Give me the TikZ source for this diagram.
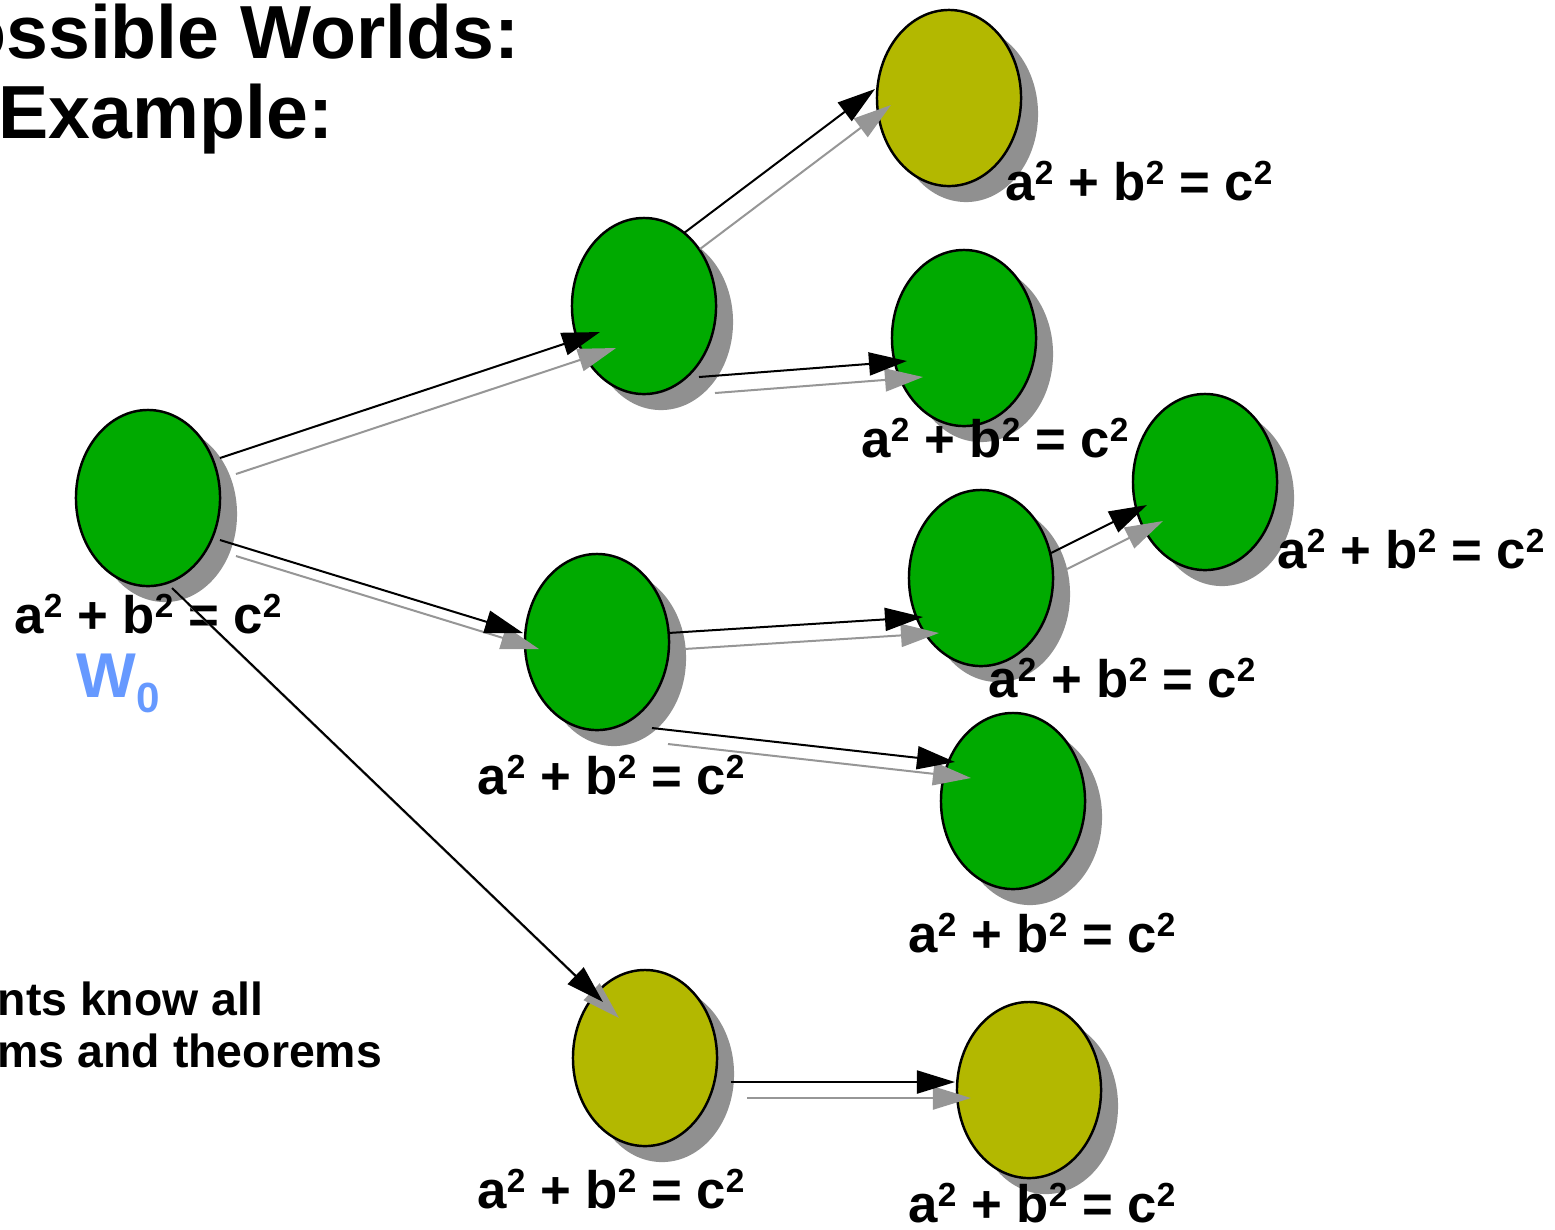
\documentclass[tikz,border=0pt]{standalone}
\usepackage{fontspec}
\setmainfont{Liberation Sans}
\usetikzlibrary{arrows.meta,shapes,shadows,calc}

\definecolor{worldgreen}{RGB}{0,170,0}
\definecolor{worldolive}{RGB}{179,184,0}
\definecolor{shadowgray}{RGB}{144,144,144}
\definecolor{linkgray}{RGB}{150,150,150}
\definecolor{wblue}{RGB}{102,153,255}

\newcommand{\supsq}{\raisebox{4.5pt}{\fontsize{9.5}{9.5}\selectfont 2}}
\newcommand{\pyth}{a\supsq{} + b\supsq{} = c\supsq}

\tikzset{
  world/.style={ellipse,draw=black,line width=0.7pt,minimum width=1.44cm,minimum height=1.76cm,inner sep=0pt,
    drop shadow={shadow xshift=0.17cm,shadow yshift=-0.16cm,fill=shadowgray,opacity=1}},
  greenworld/.style={world,fill=worldgreen},
  oliveworld/.style={world,fill=worldolive},
  eqn/.style={font=\fontsize{15}{18}\selectfont\bfseries,inner sep=0pt,anchor=base},
  heading/.style={font=\fontsize{21.4}{25}\selectfont\bfseries,inner sep=0pt},
  remark/.style={font=\fontsize{13.2}{16}\selectfont\bfseries,inner sep=0pt,anchor=base west},
  link/.style={line width=0.57pt,-{Triangle[length=0.38cm,width=0.23cm]}},
  blk/.style={link,draw=black},
  gry/.style={link,draw=linkgray,transform canvas={shift={(16,16)}}}
}

\begin{document}
\begin{tikzpicture}[x=0.01cm,y=-0.01cm]
\useasboundingbox (0,0) rectangle (1555,1229);

% title and remark
\node[heading,anchor=base east] (ttl1) at (520,58) {ossible Worlds:};
\node[heading,anchor=base west] (ttl2) at (-2,138) {Example:};
\node[remark] (rem1) at (-3,1015) {nts know all};
\node[remark] (rem2) at (-3,1067) {ms and theorems};

% worlds
\node[greenworld] (w0) at (148,498) {};
\node[greenworld] (a) at (644,306) {};
\node[oliveworld] (y1) at (949,98) {};
\node[greenworld] (b) at (964,338) {};
\node[greenworld] (c) at (597,642) {};
\node[greenworld] (d) at (981,578) {};
\node[greenworld] (r) at (1205,482) {};
\node[greenworld] (e) at (1013,801) {};
\node[oliveworld] (f) at (645,1058) {};
\node[oliveworld] (g) at (1029,1090) {};

% formulas
\node[eqn] (lw0) at (148,633) {\pyth};
\node[eqn] (ly1) at (1139,200) {\pyth};
\node[eqn] (lb) at (995,457) {\pyth};
\node[eqn] (lr) at (1411,568) {\pyth};
\node[eqn] (ld) at (1122,697) {\pyth};
\node[eqn] (lc) at (611,794) {\pyth};
\node[eqn] (le) at (1042,952) {\pyth};
\node[eqn] (lf) at (611,1208) {\pyth};
\node[eqn] (lg) at (1042,1222) {\pyth};
\node[font=\fontsize{18}{22}\selectfont\bfseries,text=wblue,inner sep=0pt,anchor=base west] (w0name) at (76,697)
  {W\raisebox{-4.5pt}{\fontsize{12}{12}\selectfont 0}};

% accessibility
\draw[gry] ($(w0)+(72,-40)$) -- ($(a)+(-44,26)$);
\draw[blk] ($(w0)+(72,-40)$) -- ($(a)+(-44,26)$);
\draw[gry] ($(w0)+(72,42)$) -- ($(c)+(-74,-9)$);
\draw[blk] ($(w0)+(72,42)$) -- ($(c)+(-74,-9)$);
\draw[gry] ($(w0)+(24,90)$) -- ($(f)+(-42,-56)$);
\draw[blk] ($(w0)+(24,90)$) -- ($(f)+(-42,-56)$);
\draw[gry] ($(a)+(40,-73)$) -- ($(y1)+(-74,-9)$);
\draw[blk] ($(a)+(40,-73)$) -- ($(y1)+(-74,-9)$);
\draw[gry] ($(a)+(55,71)$) -- ($(b)+(-57,23)$);
\draw[blk] ($(a)+(55,71)$) -- ($(b)+(-57,23)$);
\draw[gry] ($(c)+(71,-9)$) -- ($(d)+(-58,39)$);
\draw[blk] ($(c)+(71,-9)$) -- ($(d)+(-58,39)$);
\draw[gry] ($(c)+(55,86)$) -- ($(e)+(-58,-39)$);
\draw[blk] ($(c)+(55,86)$) -- ($(e)+(-58,-39)$);
\draw[gry] ($(d)+(70,-25)$) -- ($(r)+(-58,23)$);
\draw[blk] ($(d)+(70,-25)$) -- ($(r)+(-58,23)$);
\draw[gry] ($(f)+(86,24)$) -- ($(g)+(-74,-8)$);
\draw[blk] ($(f)+(86,24)$) -- ($(g)+(-74,-8)$);
\end{tikzpicture}
\end{document}
